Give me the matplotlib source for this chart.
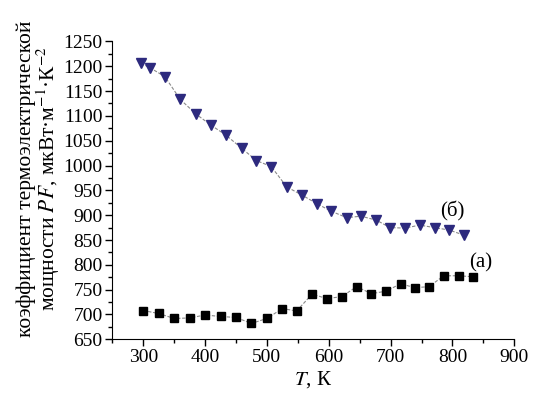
import numpy as np
import matplotlib
matplotlib.use("Agg")
import matplotlib.pyplot as plt
from matplotlib.ticker import MultipleLocator

plt.rcParams['font.family'] = ['Liberation Serif', 'DejaVu Serif']
plt.rcParams['mathtext.fontset'] = 'stix'

# series (a), squares
t_a = [300, 325, 350, 375, 400, 425, 450, 475, 500, 525, 548, 573,
       597, 621, 645, 669, 693, 716, 739, 762, 786, 810, 833]
pf_a = [708, 702, 692, 693, 699, 696, 694, 682, 692, 712, 707, 741,
        732, 736, 756, 742, 747, 762, 754, 756, 778, 778, 776]

# series (б), triangles
t_b = [296, 311, 335, 360, 386, 410, 434, 459, 483, 507, 532, 556,
       581, 604, 629, 652, 677, 699, 723, 747, 771, 795, 818]
pf_b = [1206, 1197, 1179, 1133, 1103, 1081, 1061, 1035, 1010, 998, 957, 941,
        923, 908, 895, 898, 890, 875, 874, 880, 875, 870, 860]

fig = plt.figure(figsize=(5.38, 3.97), dpi=100)
ax = fig.add_axes([0.2087, 0.1453, 0.956 - 0.2087, 0.8957 - 0.1453])

ax.plot(t_a, pf_a, color='#8a8a8a', lw=0.8, ls=(0, (3, 1.5)), marker='s', ms=6,
        mfc='black', mec='black')
ax.plot(t_b, pf_b, color='#8a8a8a', lw=0.8, ls=(0, (3, 1.5)), marker='v', ms=7.5,
        mfc='#2d2a7e', mec='#2d2a7e')

ax.text(800, 908, '(б)', fontsize=15, ha='center', va='center')
ax.text(845, 804, '(a)', fontsize=15, ha='center', va='center')

ax.set_xlim(250, 900)
ax.set_ylim(650, 1250)
ax.xaxis.set_major_locator(MultipleLocator(100))
ax.xaxis.set_minor_locator(MultipleLocator(50))
ax.yaxis.set_major_locator(MultipleLocator(50))
ax.yaxis.set_minor_locator(MultipleLocator(25))
ax.set_xticks(range(300, 901, 100))

for s in ['top', 'right']:
    ax.spines[s].set_visible(False)
ax.tick_params(which='major', direction='out', length=5, width=1, labelsize=14, pad=2)
ax.tick_params(which='minor', direction='out', length=3, width=1)

ax.set_xlabel('$T$, К', fontsize=15, labelpad=2)
ax.set_ylabel('коэффициент термоэлектрической\nмощности $PF$, мкВт·м$^{-1}$·К$^{-2}$',
              fontsize=15.5, linespacing=0.95)
ax.yaxis.set_label_coords(-0.124, 0.54)

fig.savefig('out.png', dpi=100)
